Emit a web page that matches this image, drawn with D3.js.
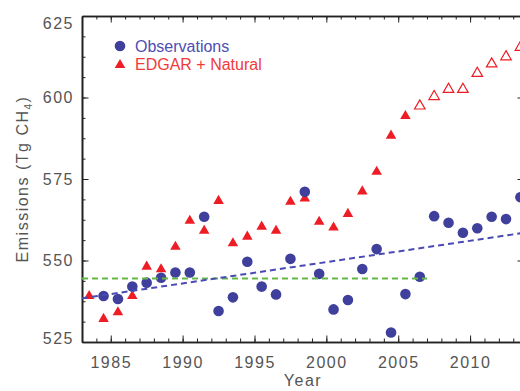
<!DOCTYPE html>
<html>
<head>
<meta charset="utf-8">
<script src="https://cdn.jsdelivr.net/npm/d3@7"></script>
<style>
  body { margin: 0; background: #fff; }
  svg { display: block; }
</style>
</head>
<body>
<div id="chart"></div>
<script>
// observations (mid-year points)
var obs_years = [1984, 1985, 1986, 1987, 1988, 1989, 1990, 1991, 1992, 1993,
                 1994, 1995, 1996, 1997, 1998, 1999, 2000, 2001, 2002, 2003,
                 2004, 2005, 2006, 2007, 2008, 2009, 2010, 2011, 2012, 2013];
var obs_values = [539.1, 538.2, 542.0, 543.2, 544.7, 546.3, 546.3, 563.4, 534.5, 538.7,
                  549.6, 542.0, 539.6, 550.5, 571.1, 545.9, 535.0, 537.9, 547.4, 553.5,
                  527.9, 539.7, 545.0, 563.6, 561.6, 558.5, 559.9, 563.4, 562.7, 569.4];

// EDGAR + Natural, filled part
var edgar_years = [1983, 1984, 1985, 1986, 1987, 1988, 1989, 1990, 1991, 1992, 1993, 1994,
                   1995, 1996, 1997, 1998, 1999, 2000, 2001, 2002, 2003, 2004, 2005];
var edgar_values = [539.1, 532.1, 534.1, 539.1, 548.1, 547.3, 554.2, 562.2, 559.1, 568.3, 555.3, 557.3,
                    560.4, 559.1, 568.0, 569.0, 561.9, 560.1, 564.3, 571.2, 577.2, 588.3, 594.3];

// EDGAR + Natural, open (extrapolated) part
var edgar_ext_years = [2006, 2007, 2008, 2009, 2010, 2011, 2012, 2013];
var edgar_ext_values = [597.4, 600.3, 602.5, 602.5, 607.4, 610.3, 612.5, 615.4];

// dashed lines: trend of observations and the mean level
var trend_years = [1983, 2013.75];
var trend_values = [538.4, 558.5];
var mean_years = [1983, 2007];
var mean_values = [544.5, 544.5];

var x_ticks = [1985, 1990, 1995, 2000, 2005, 2010];
var y_ticks = [525, 550, 575, 600, 625];

var width = 520;
var height = 391;
var margin = {"left": 82, "right": 520 - 524, "top": 16, "bottom": 391 - 342};

var obs_color = "#3f3f9c";
var edgar_color = "#ee1c24";
var trend_color = "#4a4ab4";
var mean_color = "#62b845";
var axis_color = "#222";
var text_color = "#555";

var svg = d3.select("#chart").append("svg")
    .attr("width", width)
    .attr("height", height)
    .style("font-family", "'Liberation Sans', Arial, sans-serif");

var x = d3.scaleLinear()
    .domain([1983, 2013.75])
    .range([margin.left, width - margin.right]);

var y = d3.scaleLinear()
    .domain([525, 625])
    .range([height - margin.bottom, margin.top]);

var x_minor = d3.range(1983, 2014, 1);
var y_minor = d3.range(525, 625.1, 6.25);

function styleAxis(g) {
    g.select(".domain").attr("stroke", axis_color).attr("stroke-width", 1.6);
    g.selectAll(".tick line").attr("stroke", axis_color).attr("stroke-width", 1);
    g.selectAll(".tick text")
        .attr("fill", text_color)
        .style("font-size", "16px")
        .style("letter-spacing", "1.5px");
}

// minor ticks on all four sides
svg.append("g")
    .attr("transform", "translate(0," + y(525) + ")")
    .call(d3.axisBottom(x).tickValues(x_minor).tickSize(-3.5).tickSizeOuter(0).tickFormat(""))
    .call(styleAxis);
svg.append("g")
    .attr("transform", "translate(0," + y(625) + ")")
    .call(d3.axisTop(x).tickValues(x_minor).tickSize(-3.5).tickSizeOuter(0).tickFormat(""))
    .call(styleAxis);
svg.append("g")
    .attr("transform", "translate(" + x.range()[0] + ",0)")
    .call(d3.axisLeft(y).tickValues(y_minor).tickSize(-3.5).tickSizeOuter(0).tickFormat(""))
    .call(styleAxis);
svg.append("g")
    .attr("transform", "translate(" + x.range()[1] + ",0)")
    .call(d3.axisRight(y).tickValues(y_minor).tickSize(-3.5).tickSizeOuter(0).tickFormat(""))
    .call(styleAxis);

// major ticks + labels
svg.append("g")
    .attr("transform", "translate(0," + y(525) + ")")
    .call(d3.axisBottom(x).tickValues(x_ticks).tickSize(-6.5).tickSizeOuter(0)
        .tickPadding(14.5).tickFormat(d3.format("d")))
    .call(styleAxis);
svg.append("g")
    .attr("transform", "translate(0," + y(625) + ")")
    .call(d3.axisTop(x).tickValues(x_ticks).tickSize(-6.5).tickSizeOuter(0).tickFormat(""))
    .call(styleAxis);
var y_axis = svg.append("g")
    .attr("transform", "translate(" + x.range()[0] + ",0)")
    .call(d3.axisLeft(y).tickValues(y_ticks).tickSize(-6.5).tickSizeOuter(0)
        .tickPadding(8).tickFormat(d3.format("d")))
    .call(styleAxis);
svg.append("g")
    .attr("transform", "translate(" + x.range()[1] + ",0)")
    .call(d3.axisRight(y).tickValues(y_ticks).tickSize(-6.5).tickSizeOuter(0).tickFormat(""))
    .call(styleAxis);

// end labels sit a little inside the frame in the original
y_axis.selectAll(".tick text")
    .attr("transform", function(d) {
        if (d == 625) return "translate(0,7)";
        if (d == 525) return "translate(0,-4)";
        return null;
    });

// axis titles
svg.append("text")
    .attr("x", (x.range()[0] + x.range()[1]) / 2)
    .attr("y", 386)
    .attr("text-anchor", "middle")
    .attr("fill", text_color)
    .style("font-size", "16px")
    .style("letter-spacing", "1.5px")
    .text("Year");

var y_title = svg.append("text")
    .attr("transform", "translate(28," + (y(575)) + ") rotate(-90)")
    .attr("text-anchor", "middle")
    .attr("fill", text_color)
    .style("font-size", "16px")
    .style("letter-spacing", "1.5px");
y_title.append("tspan").text("Emissions (Tg CH");
y_title.append("tspan").attr("dy", 4).style("font-size", "10px").text("4");
y_title.append("tspan").attr("dy", -4).text(")");

// markers
var tri = d3.symbol().type(d3.symbolTriangle).size(48);

svg.selectAll(".edgar")
    .data(edgar_years)
    .enter()
    .append("path")
    .attr("class", "edgar")
    .attr("d", tri)
    .attr("transform", function(d, i) { return "translate(" + x(d + 0.5) + "," + y(edgar_values[i]) + ")"; })
    .attr("fill", edgar_color);

svg.selectAll(".edgar_ext")
    .data(edgar_ext_years)
    .enter()
    .append("path")
    .attr("class", "edgar_ext")
    .attr("d", tri)
    .attr("transform", function(d, i) { return "translate(" + x(d + 0.5) + "," + y(edgar_ext_values[i]) + ")"; })
    .attr("fill", "none")
    .attr("stroke", edgar_color)
    .attr("stroke-width", 1.2);

svg.selectAll(".obs")
    .data(obs_years)
    .enter()
    .append("circle")
    .attr("class", "obs")
    .attr("cx", function(d) { return x(d + 0.5); })
    .attr("cy", function(d, i) { return y(obs_values[i]); })
    .attr("r", 5.3)
    .attr("fill", obs_color);

// dashed lines
var line = d3.line()
    .x(function(d) { return x(d[0]); })
    .y(function(d) { return y(d[1]); });

svg.append("path")
    .attr("d", line(d3.zip(mean_years, mean_values)))
    .attr("fill", "none")
    .attr("stroke", mean_color)
    .attr("stroke-width", 2)
    .attr("stroke-dasharray", "6,4");

svg.append("path")
    .attr("d", line(d3.zip(trend_years, trend_values)))
    .attr("fill", "none")
    .attr("stroke", trend_color)
    .attr("stroke-width", 2)
    .attr("stroke-dasharray", "6,4");

// legend
svg.append("circle")
    .attr("cx", 120)
    .attr("cy", 46)
    .attr("r", 5.3)
    .attr("fill", obs_color);
svg.append("text")
    .attr("x", 135)
    .attr("y", 52)
    .attr("fill", "#4d4db4")
    .style("font-size", "16px")
    .text("Observations");

svg.append("path")
    .attr("d", tri)
    .attr("transform", "translate(120,65)")
    .attr("fill", edgar_color);
svg.append("text")
    .attr("x", 135)
    .attr("y", 70)
    .attr("fill", "#f03a3a")
    .style("font-size", "16px")
    .text("EDGAR + Natural");
</script>
</body>
</html>
